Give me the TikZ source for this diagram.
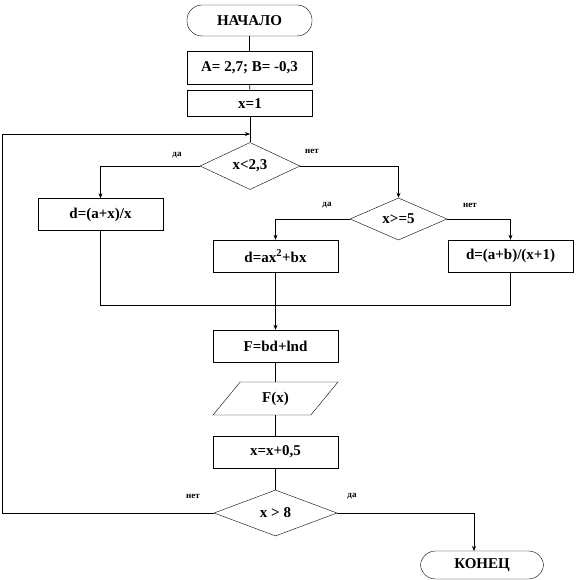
\documentclass[tikz,border=0pt]{standalone}
\usepackage{fontspec}
\setmainfont{Liberation Serif}
\usetikzlibrary{shapes.geometric,arrows.meta}
\begin{document}
\begin{tikzpicture}[x=1pt,y=-1pt,
  every node/.style={font=\fontsize{15}{17}\selectfont\bfseries, inner sep=0pt},
  term/.style={draw, rounded corners=15pt, minimum width=125pt, minimum height=31pt},
  proc/.style={draw, rectangle, minimum width=125pt, minimum height=32pt},
  cond/.style={draw, diamond, minimum width=100pt, minimum height=42pt},
  io/.style={draw, trapezium, trapezium left angle=53, trapezium right angle=127, trapezium stretches=true, minimum width=125pt, minimum height=33pt},
  lbl/.style={font=\fontsize{9}{10}\selectfont\bfseries},
  line/.style={line width=0.6pt},
  arr/.style={line, -{Stealth[length=5pt,width=4pt]}}]
\useasboundingbox (0,0) rectangle (576,580);
\node[term] (start) at (249.5,20.5) {НАЧАЛО};
\node[proc, minimum height=33pt] (ab) at (249.5,67.5) {A= 2,7; B= -0,3};
\node[proc, minimum height=26pt] (x1) at (250,103.5) {x=1};
\coordinate (m1) at (250,134);
\node[cond] (d1) at (250,166) {x<2,3};
\node[proc] (b1) at (100.5,214.5) {d=(a+x)/x};
\node[cond, minimum width=97pt] (d2) at (398.5,219) {x>=5};
\node[proc] (b2) at (275.5,256) {d=ax\textsuperscript{2}+bx};
\node[proc] (b3) at (510.5,256) {d=(a+b)/(x+1)};
\coordinate (j) at (275.5,305);
\node[proc] (f) at (275.5,346) {F=bd+lnd};
\node[io] (out) at (275.5,398.5) {F(x)};
\node[proc] (inc) at (275.5,452) {x=x+0,5};
\node[cond, minimum width=123pt, minimum height=46pt] (d3) at (275.5,513) {x > 8};
\node[term, minimum width=123pt, minimum height=28pt] (fin) at (482,565) {КОНЕЦ};
\coordinate (e) at (474,551);
\coordinate (lp) at (2,513);
% labels
\node[lbl] (l1) at (177,155) {да};
\node[lbl] (l2) at (312,151) {нет};
\node[lbl] (l3) at (327,205) {да};
\node[lbl] (l4) at (470,205) {нет};
\node[lbl] (l5) at (193,496) {нет};
\node[lbl] (l6) at (352,496) {да};
% connectors
\draw[line] (start) -- (ab);
\draw[line] (ab) -- (x1);
\draw[line] (x1) -- (d1);
\draw[arr] (d3.west) -- (lp) |- (m1);
\draw[arr] (d1.west) -| (b1.north);
\draw[arr] (d1.east) -| (d2.north);
\draw[arr] (d2.west) -| (b2.north);
\draw[arr] (d2.east) -| (b3.north);
\draw[line] (b1.south) |- (j);
\draw[line] (b3.south) |- (j);
\draw[arr] (b2.south) -- (f.north);
\draw[line] (f) -- (out);
\draw[line] (out) -- (inc);
\draw[line] (inc) -- (d3);
\draw[arr] (d3.east) -| (e);
\end{tikzpicture}
\end{document}
